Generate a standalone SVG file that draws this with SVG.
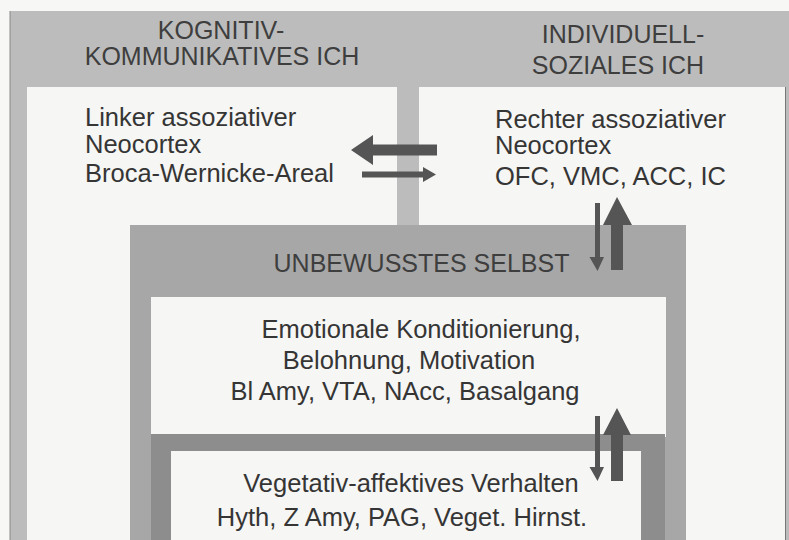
<svg xmlns="http://www.w3.org/2000/svg" width="789" height="540" viewBox="0 0 789 540">
<style>
  text { font-family: "Liberation Sans", Arial, Helvetica, sans-serif; fill: #353535; }
  .title { font-size: 25px; fill: #3e3e3e; }
  .body { font-size: 25.5px; }
  .mid { text-anchor: middle; }
  .frame { fill: #bcbcbc; }
  .white { fill: #f6f6f4; }
  .grey { fill: #a7a7a7; }
  .dark { fill: #8d8d8d; }
  .arrow { fill: #555555; }
</style>
<rect x="0" y="0" width="789" height="540" fill="#f7f7f5"/>
<rect class="frame" x="10" y="11" width="779" height="529"/>
<line x1="10" y1="11" x2="10" y2="540" stroke="#888" stroke-width="1"/>
<line x1="785.5" y1="87" x2="785.5" y2="540" stroke="#777" stroke-width="1"/>
<rect class="frame" x="397" y="87" width="22" height="140"/>

<g id="kognitiv">
  <rect class="white" x="27" y="87" width="370" height="453"/>
  <text class="title mid" x="221" y="39">KOGNITIV-</text>
  <text class="title mid" x="222" y="65">KOMMUNIKATIVES ICH</text>
  <text class="body" x="85" y="126">Linker assoziativer</text>
  <text class="body" x="85" y="153">Neocortex</text>
  <text class="body" x="85" y="182">Broca-Wernicke-Areal</text>
</g>

<g id="individuell">
  <rect class="white" x="419" y="87" width="366" height="453"/>
  <text class="title mid" x="623" y="43">INDIVIDUELL-</text>
  <text class="title mid" x="618" y="74">SOZIALES ICH</text>
  <text class="body" x="495" y="128">Rechter assoziativer</text>
  <text class="body" x="495" y="154">Neocortex</text>
  <text class="body" x="495" y="185">OFC, VMC, ACC, IC</text>
</g>

<g id="unbewusst">
  <rect class="grey" x="130" y="225" width="556" height="315"/>
  <text class="title mid" x="421.5" y="272">UNBEWUSSTES SELBST</text>
</g>

<g id="emotional">
  <rect class="white" x="151" y="297" width="515" height="140"/>
  <text class="body mid" x="421" y="338">Emotionale Konditionierung,</text>
  <text class="body mid" x="409" y="369">Belohnung, Motivation</text>
  <text class="body mid" x="405" y="400">Bl Amy, VTA, NAcc, Basalgang</text>
</g>

<g id="vegetativ">
  <rect class="dark" x="151" y="434" width="514" height="106"/>
  <rect class="white" x="171" y="451" width="470" height="89"/>
  <text class="body mid" x="411" y="492">Vegetativ-affektives Verhalten</text>
  <text class="body mid" x="402" y="526">Hyth, Z Amy, PAG, Veget. Hirnst.</text>
</g>

<g id="connectors">
  <polygon class="arrow" points="351,150 373,135 373,144.5 437,144.5 437,155.5 373,155.5 373,165"/>
  <polygon class="arrow" points="362,171.5 423,171.5 423,167 436,174.5 423,182 423,177.5 362,177.5"/>
  <polygon class="arrow" points="595,203 600,203 600,257 604,257 597.5,271 589.5,257 595,257"/>
  <polygon class="arrow" points="611,270 611,225 603,225 617,197 632,225 623,225 623,270"/>
  <polygon class="arrow" points="595,416 600,416 600,467 604,467 597.5,481 589.5,467 595,467"/>
  <polygon class="arrow" points="611,481 611,435 603,435 617,408 631,435 623,435 623,481"/>
</g>
</svg>
